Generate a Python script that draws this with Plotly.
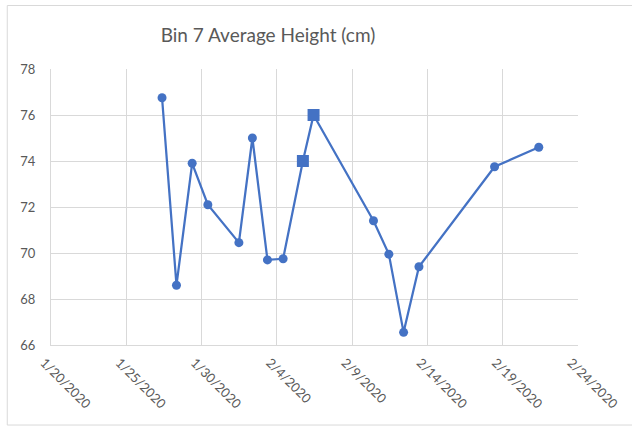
import plotly.graph_objects as go

# Measurement timestamps and average plant height (cm) for bin 7
dates = [
    "2020-01-27 09:00", "2020-01-28 08:00", "2020-01-29 09:00", "2020-01-30 10:00",
    "2020-02-01 11:30", "2020-02-02 09:00", "2020-02-03 09:00", "2020-02-04 10:00",
    "2020-02-05 17:30", "2020-02-06 10:30", "2020-02-10 10:00", "2020-02-11 10:30",
    "2020-02-12 10:00", "2020-02-13 10:30", "2020-02-18 11:00", "2020-02-21 09:30",
]
heights = [76.75, 68.6, 73.9, 72.1, 70.45, 75.0, 69.7, 69.75,
           74.0, 76.0, 71.4, 69.95, 66.55, 69.4, 73.75, 74.6]
symbols = ["circle"] * 8 + ["square", "square"] + ["circle"] * 6
sizes = [9] * 8 + [12, 12] + [9] * 6

y_ticks = [66, 68, 70, 72, 74, 76, 78]

blue = "#4472C4"
grid = "#D9D9D9"
text_gray = "#595959"

fig = go.Figure()
fig.add_trace(go.Scatter(
    x=dates, y=heights, mode="lines+markers",
    line=dict(color=blue, width=2.25),
    marker=dict(color=blue, symbol=symbols, size=sizes, opacity=1,
                line=dict(color=blue, width=0)),
    showlegend=False,
))

fig.update_layout(
    width=632, height=427,
    margin=dict(l=51, r=54, t=69, b=82),
    paper_bgcolor="white", plot_bgcolor="white",
    title=dict(text="Bin 7 Average Height (cm)", x=0.424, xanchor="center",
               y=0.918, yanchor="middle",
               font=dict(family="Lato", size=19, color=text_gray)),
    font=dict(family="Lato", size=12, color=text_gray),
    xaxis=dict(
        type="date", range=["2020-01-20", "2020-02-24"],
        tick0="2020-01-20", dtick=5 * 86400000, tickformat="%-m/%-d/%Y",
        tickangle=45, showgrid=True, gridcolor=grid, gridwidth=1,
        showline=True, linecolor=grid, linewidth=1, zeroline=False,
        ticks="", ticklabelstandoff=4, ticklabelshift=-7, automargin=False,
        tickfont=dict(size=13, color=text_gray),
    ),
    yaxis=dict(
        range=[66, 78], tickvals=y_ticks, showgrid=True, gridcolor=grid,
        gridwidth=1, showline=True, linecolor=grid, linewidth=1,
        zeroline=False, ticks="", ticklabelstandoff=12, automargin=False,
        tickfont=dict(size=13, color=text_gray),
    ),
    shapes=[dict(type="rect", xref="paper", yref="paper",
                 x0=-0.083, x1=1.2, y0=-0.29, y1=1.23,
                 line=dict(color=grid, width=1))],
)

fig.write_html("out.html")
